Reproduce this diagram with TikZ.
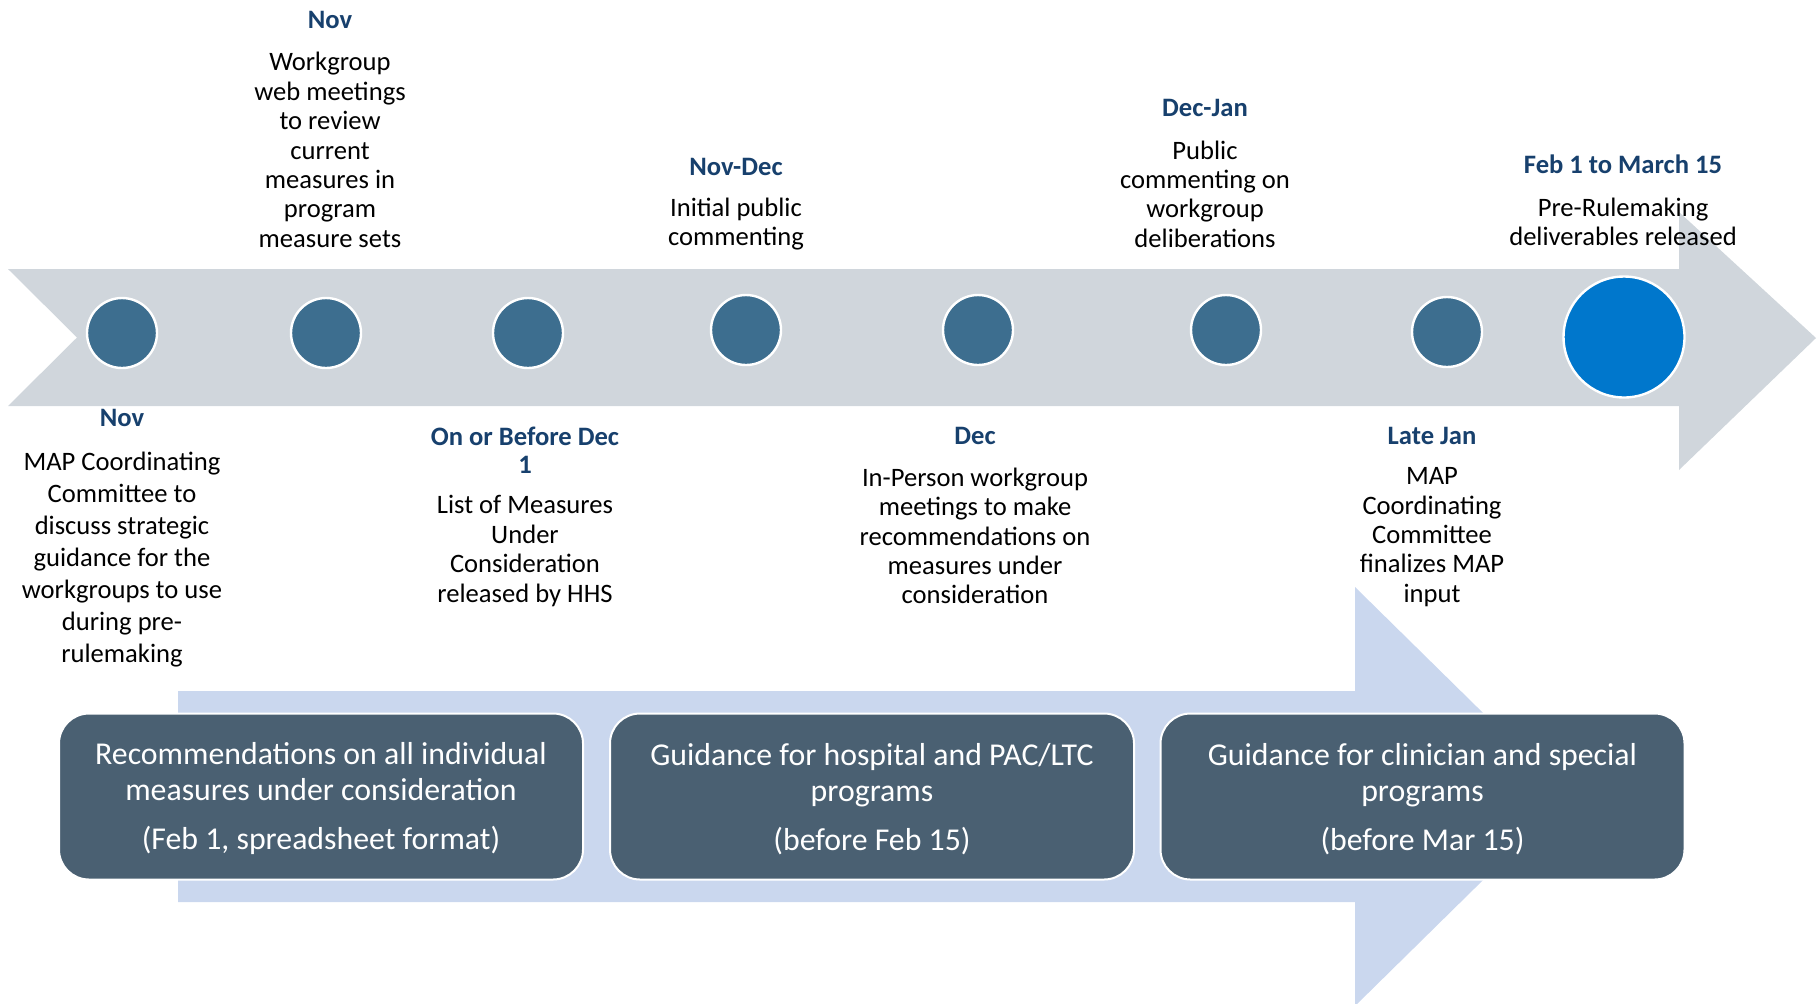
\documentclass[tikz,border=0pt]{standalone}
\usepackage{fontspec}
\setmainfont{Carlito}
\definecolor{greyarr}{RGB}{208,214,220}
\definecolor{bluearr}{RGB}{202,215,238}
\definecolor{dotcol}{RGB}{61,110,143}
\definecolor{bigdot}{RGB}{0,119,204}
\definecolor{boxfill}{RGB}{74,96,114}
\definecolor{titleblue}{RGB}{23,64,109}
\begin{document}
\begin{tikzpicture}[x=0.5pt,y=-0.5pt,
  dotc/.style={circle,fill=dotcol,draw=white,line width=1.2pt,minimum size=35pt,inner sep=0},
  bigc/.style={circle,fill=bigdot,draw=white,line width=1.2pt,minimum size=60.5pt,inner sep=0},
  lbl/.style={align=center,inner sep=0,text=black,font=\fontsize{13.3pt}{14.7pt}\selectfont},
  lblwide/.style={lbl,font=\fontsize{13.3pt}{16pt}\selectfont},
  ttl/.style={align=center,inner sep=0,text=titleblue,font=\fontsize{13.3pt}{14pt}\selectfont\bfseries},
  bx/.style={rectangle,rounded corners=15pt,fill=boxfill,draw=white,line width=1pt,
    minimum width=262pt,minimum height=83pt,text=white,align=center,inner sep=0,
    font=\fontsize{15.9pt}{18pt}\selectfont}]
\useasboundingbox (0,0) rectangle (1820,1003);
\clip (0,0) rectangle (1820,1003);
% grey timeline arrow
\fill[greyarr] (8,269) -- (1679,269) -- (1679,212) -- (1816,338) -- (1679,470)
  -- (1679,406) -- (8,406) -- (77,337.5) -- cycle;
% milestones
\node[dotc] (c1) at (122,333) {};
\node[dotc] (c2) at (326,333) {};
\node[dotc] (c3) at (528,333) {};
\node[dotc] (c4) at (746,330) {};
\node[dotc] (c5) at (978,330) {};
\node[dotc] (c6) at (1226,330) {};
\node[dotc] (c7) at (1447,332) {};
\node[bigc] (c8) at (1624,337) {};
% light blue deliverables arrow
\fill[bluearr] (178,691) -- (1355,691) -- (1355,587) -- (1568,796.5) -- (1355,1006)
  -- (1355,902) -- (178,902) -- cycle;
% deliverable boxes
\node[bx] (b1) at (321,796.5) {};
\node[bx] (b2) at (872,796.5) {};
\node[bx] (b3) at (1422.5,796.5) {};
\node[bx,draw=none,fill=none] (b1t) at (321,799) {Recommendations on all individual\\measures under consideration\\[6.5pt](Feb 1, spreadsheet format)};
\node[bx,draw=none,fill=none] (b2t) at (872,799) {Guidance for hospital and PAC/LTC\\programs\\[6.5pt](before Feb 15)};
\node[bx,draw=none,fill=none] (b3t) at (1422.5,799) {Guidance for clinician and special\\programs\\[6.5pt](before Mar 15)};
% labels below
\node[ttl] (t1) at (122,418) {Nov};
\node[lblwide] (d1) at (122,560) {MAP Coordinating\\Committee to\\discuss strategic\\guidance for the\\workgroups to use\\during pre-\\rulemaking};
\node[ttl] (t3) at (525,450) {On or Before Dec\\1};
\node[lbl] (d3) at (525,551) {List of Measures\\Under\\Consideration\\released by HHS};
\node[ttl] (t5) at (975,436) {Dec};
\node[lbl] (d5) at (975,536) {In-Person workgroup\\meetings to make\\recommendations on\\measures under\\consideration};
\node[ttl] (t7) at (1432,436) {Late Jan};
\node[lbl] (d7) at (1432,537) {MAP\\Coordinating\\Committee\\finalizes MAP\\input};
% labels above
\node[ttl] (t2) at (330,20) {Nov};
\node[lbl] (d2) at (330,150) {Workgroup\\web meetings\\to review\\current\\measures in\\program\\measure sets};
\node[ttl] (t4) at (736,167) {Nov-Dec};
\node[lbl] (d4) at (736,224) {Initial public\\commenting};
\node[ttl] (t6) at (1205,108) {Dec-Jan};
\node[lbl] (d6) at (1205,194) {Public\\commenting on\\workgroup\\deliberations};
\node[ttl] (t8) at (1623,164) {Feb 1 to March 15};
\node[lbl] (d8) at (1623,222) {Pre-Rulemaking\\deliverables released};
\end{tikzpicture}
\end{document}
